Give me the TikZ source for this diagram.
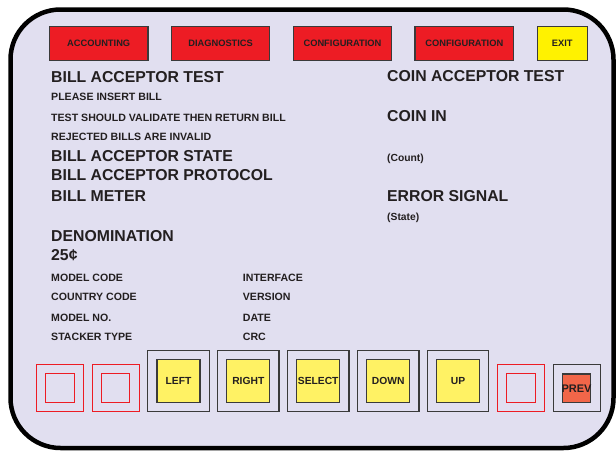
\documentclass[tikz,border=0pt]{standalone}
\usepackage{fontspec}
\setmainfont{Liberation Sans}
\definecolor{panel}{RGB}{225,223,240}
\definecolor{ink}{RGB}{35,31,32}
\definecolor{btnred}{RGB}{237,28,36}
\definecolor{btnyellow}{RGB}{255,242,0}
\definecolor{keyyellow}{RGB}{255,242,100}
\definecolor{keyorange}{RGB}{242,102,73}
\definecolor{keyframe}{RGB}{58,58,58}
\begin{document}
\begin{tikzpicture}[x=1pt,y=-1pt,
  big/.style={font=\bfseries\fontsize{15.8}{18}\selectfont, text=ink, anchor=base west, inner sep=0},
  small/.style={font=\bfseries\fontsize{10.6}{12}\selectfont, text=ink, anchor=base west, inner sep=0},
  note/.style={font=\bfseries\fontsize{10.3}{12}\selectfont, text=ink, anchor=base west, inner sep=0},
  topbtn/.style={draw=keyframe, line width=1.2, fill=btnred, minimum width=98.5, minimum height=34,
    inner sep=0, font=\bfseries\fontsize{9.3}{11}\selectfont, text=ink},
  keyframebig/.style={draw=keyframe, line width=1.2, minimum width=61.5, minimum height=61.4, inner sep=0},
  keyframesmall/.style={draw=#1, line width=1, minimum width=47, minimum height=47.4, inner sep=0},
  keyinner/.style={draw=keyframe, line width=1.2, fill=#1, minimum size=43, inner sep=0,
    font=\bfseries\fontsize{10.3}{12}\selectfont, text=ink},
  blank/.style={draw=btnred, line width=1, minimum width=28.4, minimum height=28.6, inner sep=0},
  keyinnersmall/.style={draw=keyframe, line width=1.2, fill=#1, minimum width=28.4, minimum height=28.7, inner sep=0}]
\useasboundingbox (0,0) rectangle (616,450);

% panel
\draw[line width=4.5, fill=panel, rounded corners=50] (10.5,9.5) rectangle (613.5,448);

% menu bar
\node[topbtn] (acc) at (98.7,43.7) {ACCOUNTING};
\node[topbtn] (diag) at (220.6,43.7) {DIAGNOSTICS};
\node[topbtn] (conf1) at (342.5,43.7) {CONFIGURATION};
\node[topbtn] (conf2) at (464.3,43.7) {CONFIGURATION};
\node[topbtn, fill=btnyellow, minimum width=50] (exit) at (562.3,43.7) {EXIT};

% bill acceptor column
\node[big]   (bat)   at (51,82)    {BILL ACCEPTOR TEST};
\node[small] (ins)   at (51,100)   {PLEASE INSERT BILL};
\node[small] (val)   at (51,121)   {TEST SHOULD VALIDATE THEN RETURN BILL};
\node[small] (rej)   at (51,140)   {REJECTED BILLS ARE INVALID};
\node[big]   (state) at (51,161.3) {BILL ACCEPTOR STATE};
\node[big]   (proto) at (51,180.3) {BILL ACCEPTOR PROTOCOL};
\node[big]   (meter) at (51,201)   {BILL METER};
\node[big]   (denom) at (51,241.3) {DENOMINATION};
\node[big]   (value) at (51,260)   {25¢};
\node[small] (mcode) at (51,281.3) {MODEL CODE};
\node[small] (ccode) at (51,300.7) {COUNTRY CODE};
\node[small] (mno)   at (51,321.7) {MODEL NO.};
\node[small] (stack) at (51,340.5) {STACKER TYPE};
\node[small] (iface) at (242.7,281.3) {INTERFACE};
\node[small] (ver)   at (242.7,300.7) {VERSION};
\node[small] (date)  at (242.7,321.7) {DATE};
\node[small] (crc)   at (242.7,340.5) {CRC};

% coin acceptor column
\node[big]  (cat)   at (387,81.7)  {COIN ACCEPTOR TEST};
\node[big]  (coin)  at (387,121.7) {COIN IN};
\node[note] (count) at (387,161)   {(Count)};
\node[big]  (err)   at (387,201.3) {ERROR SIGNAL};
\node[note] (est)   at (387,220.3) {(State)};

% key row
\node[keyframesmall=btnred] (k1) at (59.8,388) {};
\node[blank] (k1i) at (k1.center) {};
\node[keyframesmall=btnred] (k2) at (115.5,388) {};
\node[blank] (k2i) at (k2.center) {};
\node[keyframebig] (kl) at (178.5,381) {};
\node[keyinner=keyyellow] (kli) at (kl.center) {LEFT};
\node[keyframebig] (kr) at (248.3,381) {};
\node[keyinner=keyyellow] (kri) at (kr.center) {RIGHT};
\node[keyframebig] (ks) at (318.2,381) {};
\node[keyinner=keyyellow] (ksi) at (ks.center) {SELECT};
\node[keyframebig] (kd) at (388.2,381) {};
\node[keyinner=keyyellow] (kdi) at (kd.center) {DOWN};
\node[keyframebig] (ku) at (458,381) {};
\node[keyinner=keyyellow] (kui) at (ku.center) {UP};
\node[keyframesmall=btnred] (k3) at (520.8,388) {};
\node[blank] (k3i) at (k3.center) {};
\node[keyframesmall=keyframe, line width=1.2] (kp) at (576.7,387.9) {};
\node[keyinnersmall=keyorange, label={[font=\bfseries\fontsize{11}{13}\selectfont, text=ink, inner sep=0]center:PREV}] (kpi) at (576.5,388.3) {};
\end{tikzpicture}
\end{document}
